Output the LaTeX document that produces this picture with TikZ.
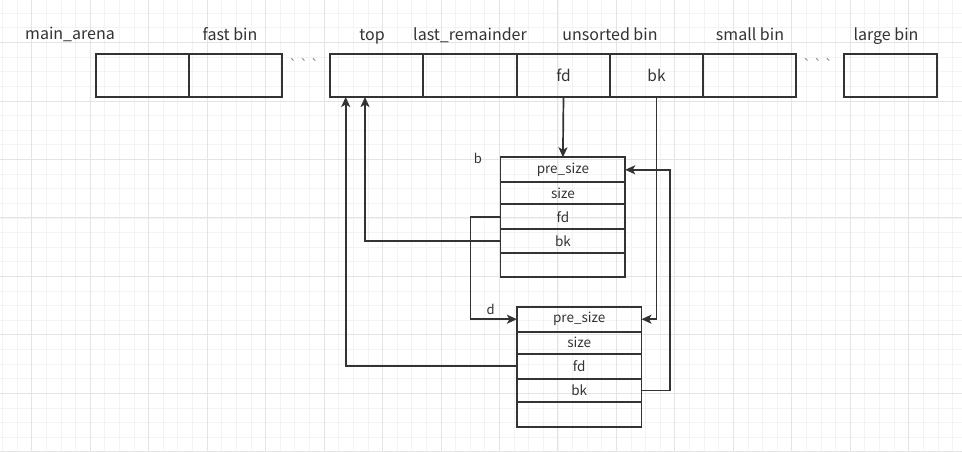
\documentclass[tikz,border=0pt]{standalone}
\usepackage{fontspec}
\setmainfont{Noto Sans CJK SC}
\usetikzlibrary{arrows.meta,calc}
\definecolor{ink}{HTML}{333333}
\definecolor{gminor}{HTML}{F3F3F3}
\definecolor{gmajor}{HTML}{E4E4E4}
\tikzset{
  cell/.style={draw=ink, line width=1.7pt, minimum width=93pt, minimum height=43pt,
    inner sep=0pt, outer sep=0pt, text=ink, font=\fontsize{15.5}{18}\selectfont},
  crow/.style={draw=ink, line width=1.7pt, minimum width=124.6pt, inner sep=0pt,
    outer sep=0pt, text=ink, font=\fontsize{13.5}{16}\selectfont},
  lbl/.style={anchor=base, inner sep=0pt, text=ink, font=\fontsize{16}{19}\selectfont},
  small/.style={inner sep=0pt, text=ink, font=\fontsize{13}{15}\selectfont},
  dots/.style={inner sep=0pt, text=black!45, font=\fontsize{14}{16}\selectfont},
  arr/.style={draw=ink, line width=1.7pt, -{Stealth[length=10pt,width=9pt,inset=2.5pt]}},
  minorl/.style={draw=gminor, line width=0.8pt},
  majorl/.style={draw=gmajor, line width=0.9pt}
}
\begin{document}
\begin{tikzpicture}[x=1pt,y=-1pt]
\useasboundingbox (0,0) rectangle (962,451);
\fill[white] (0,0) rectangle (962,451);
% grid
\foreach \i in {0,...,66} {\draw[minorl] ({2.46+14.6175*\i},0) -- ({2.46+14.6175*\i},451);}
\foreach \i in {0,...,31} {\draw[minorl] (0,{13.26+14.6175*\i}) -- (962,{13.26+14.6175*\i});}
\foreach \i in {0,...,16} {\draw[majorl] ({31.7+58.47*\i},0) -- ({31.7+58.47*\i},451);}
\foreach \i in {0,...,7} {\draw[majorl] (0,{42.5+58.47*\i}) -- (962,{42.5+58.47*\i});}

% top row
\node[cell] (main) at (142.5,75.5) {};
\node[cell] (fast) at (235.5,75.5) {};
\node[cell] (top) at (376.5,75.5) {};
\node[cell] (lastrem) at (470,75.5) {};
\node[cell] (ufd) at (563.5,75.5) {fd};
\node[cell] (ubk) at (656.5,75.5) {bk};
\node[cell] (smallbin) at (749.5,75.5) {};
\node[cell] (large) at (890.5,75.5) {};
\node[dots] (dots1) at (304,64) {\textasciigrave\,\textasciigrave\,\textasciigrave};
\node[dots] (dots2) at (818,64) {\textasciigrave\,\textasciigrave\,\textasciigrave};

% labels
\node[lbl] (lmain) at (70,39) {main\_arena};
\node[lbl] (lfast) at (230,40) {fast bin};
\node[lbl] (ltop) at (372,40) {top};
\node[lbl] (llast) at (470,40) {last\_remainder};
\node[lbl] (lunsorted) at (610,40) {unsorted bin};
\node[lbl] (lsmall) at (750,40) {small bin};
\node[lbl] (llarge) at (886,40) {large bin};

% chunk b
\node[crow, minimum height=25pt] (bpre) at (562.9,169.8) {pre\_size};
\node[crow, minimum height=22pt] (bsize) at (562.9,193.3) {size};
\node[crow, minimum height=25pt] (bfd) at (562.9,216.8) {fd};
\node[crow, minimum height=23.4pt] (bbk) at (562.9,241) {bk};
\node[crow, minimum height=24pt] (bemp) at (562.9,264.7) {};
\node[small] (lb) at (478,158) {b};

% chunk d
\node[crow, minimum height=25pt] (dpre) at (579.2,319.2) {pre\_size};
\node[crow, minimum height=22pt] (dsize) at (579.2,342.7) {size};
\node[crow, minimum height=25pt] (dfd) at (579.2,366.2) {fd};
\node[crow, minimum height=23.6pt] (dbk) at (579.2,390.5) {bk};
\node[crow, minimum height=24.4pt] (demp) at (579.2,414.5) {};
\node[small] (ld) at (490.7,309) {d};

% connectors
\draw[arr] (ufd.south) -- (bpre.north);
\draw[arr] (ubk.south) |- (dpre.east);
\draw[arr] (bfd.west) -- ++(-30,0) |- (dpre.west);
\draw[arr] (bbk.west) -| ([xshift=-11.5pt]top.south);
\draw[arr] (dfd.west) -| ([xshift=-30.8pt]top.south);
\draw[arr] (dbk.east) -- ++(28.3,0) |- (bpre.east);
\end{tikzpicture}
\end{document}
